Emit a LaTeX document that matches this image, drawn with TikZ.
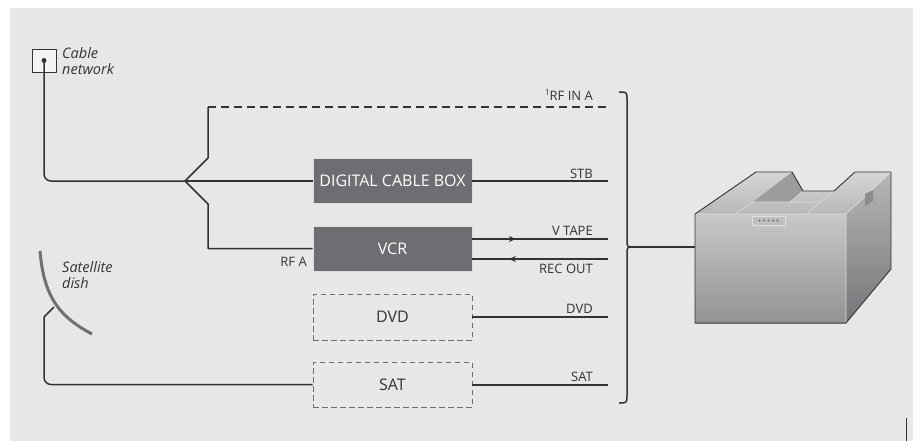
\documentclass[tikz,border=0pt]{standalone}
\usepackage{fontspec}
\setmainfont{Open Sans}
\usetikzlibrary{calc,arrows.meta,decorations.markings}

\definecolor{bggray}{HTML}{E6E7E8}
\definecolor{boxgray}{HTML}{6D6E71}
\definecolor{linegray}{HTML}{333333}
\definecolor{dishgray}{HTML}{6F7073}

\begin{document}
\begin{tikzpicture}[x=1pt,y=-1pt,line join=round,
    wire/.style={draw=linegray,line width=1.5pt},
    unit/.style={rectangle,minimum width=159pt,minimum height=45pt,inner sep=0pt,font=\fontsize{16}{18}\selectfont},
    solid unit/.style={unit,fill=boxgray,draw=white!75!gray,line width=0.8pt,text=white},
    dashed unit/.style={unit,draw=boxgray,dash pattern=on 5.5pt off 3.5pt,line width=0.9pt,text=linegray},
    tag/.style={font=\fontsize{13}{15}\selectfont,text=linegray,inner sep=0pt,anchor=base east},
    place/.style={font=\itshape\fontsize{14.5}{16}\selectfont,text=linegray,align=left,inner sep=0pt,anchor=north west},
    fwd/.style={postaction={decorate},decoration={markings,mark=at position #1 with {\arrow{Stealth[length=7pt,width=6pt]}}}}]

    \useasboundingbox (0,0) rectangle (918,441);
    \fill[bggray] (10,8) rectangle (913,441);
    \draw[linegray,line width=0.9pt] (906,418) -- (906,441);

    % sources
    \node[rectangle,draw=linegray,fill=white!55!bggray,line width=0.8pt,minimum width=24pt,minimum height=23pt] (socket) at (44,60.5) {};
    \fill[linegray] (socket.center) circle (2.5pt);
    \node[place] (cablelbl) at (62,47) {Cable\\network};

    \draw[dishgray,line width=3pt] (40,251) .. controls (44,300) and (62,318) .. (92,334);
    \node[place] (dishlbl) at (62,261) {Satellite\\dish};

    % boxes
    \node[solid unit] (dcb) at (392.5,181) {DIGITAL CABLE BOX};
    \node[solid unit] (vcr) at (392.5,248.5) {VCR};
    \node[dashed unit,minimum height=46pt] (dvd) at (392.5,317) {DVD};
    \node[dashed unit] (sat) at (392.5,384.5) {SAT};

    % cable feed and splitter
    \coordinate (split) at (185,181);
    \coordinate (rfin) at (608,107);
    \draw[wire,rounded corners=7pt] (socket.center) -- (socket.center |- split) -- (split);
    \draw[wire] (split) -- (dcb.west);
    \draw[wire] (split) -- ++(23,-23) coordinate (up) -- (up |- rfin) coordinate (corner);
    \draw[wire,dash pattern=on 8pt off 5pt] (corner) -- (rfin);
    \draw[wire] (split) -- ++(23,23) |- (vcr.west);
    \node[tag] (rfa) at (307,266) {RF A};

    % satellite feed
    \coordinate (feed) at (54,307);
    \draw[wire] (feed) -- ++(-10,10) coordinate (bend);
    \draw[wire,rounded corners=7pt] (bend) -- (bend |- sat.west) -- (sat.west);

    % outputs
    \coordinate (stb) at (608,181);
    \coordinate (vtape) at (608,239);
    \coordinate (recout) at (608,259);
    \coordinate (dvdout) at (608,317);
    \coordinate (satout) at (608,385);
    \draw[wire] (dcb.east |- stb) -- (stb);
    \draw[wire,fwd=0.32] (vcr.east |- vtape) -- (vtape);
    \draw[wire,fwd=0.73] (recout) -- (vcr.east |- recout);
    \draw[wire] (dvd.east |- dvdout) -- (dvdout);
    \draw[wire] (sat.east |- satout) -- (satout);

    \node[tag] (rfinlbl) at (593,100.5) {\raisebox{4.5pt}{\fontsize{8.5}{9}\selectfont 1}RF IN A};
    \node[tag] (stblbl) at (593,178) {STB};
    \node[tag] (vtapelbl) at (593,235) {V TAPE};
    \node[tag] (recoutlbl) at (593,273) {REC OUT};
    \node[tag] (dvdlbl) at (593,313) {DVD};
    \node[tag] (satlbl) at (593,381) {SAT};

    % brace
    \coordinate (tip) at (634,247);
    \draw[wire] (619,92) .. controls (627,92) .. (627,100) -- (627,240)
        .. controls (627,247) .. (tip) .. controls (627,247) .. (627,254)
        -- (627,395) .. controls (627,403) .. (619,403);

    % receiver
    \shade[top color=white!72!boxgray,bottom color=white!50!boxgray] (695,214) -- (756,172) -- (792,172) -- (803,191) -- (834,191) -- (855,172) -- (891,172) -- (846,214) -- cycle;
    \fill[white!32!boxgray] (753,202) -- (792,172) -- (803,191) -- (790,202) -- cycle;
    \shade[top color=white!62!boxgray,bottom color=white!25!boxgray] (695,214) rectangle (846,323);
    \shade[top color=white!50!boxgray,bottom color=boxgray!95!white] (846,214) -- (891,172) -- (891,269) -- (846,323) -- cycle;
    \draw[white!75!gray,line width=0.6pt] (735,214) -- (753,202) -- (820,202) -- (807,214)
        (790,202) -- (803,191) (834,191) -- (820,202);
    \draw[white!75!gray,line width=0.7pt] (695,214) -- (846,214) -- (891,172) (846,214) -- (846,323);
    \fill[white!20!boxgray] (865,194) -- (873,190) -- (873,201) -- (865,206) -- cycle;
    \node[rectangle,fill=white!55!boxgray,draw=white!75!gray,line width=0.5pt,minimum width=33pt,minimum height=9pt,inner sep=0pt] (panel) at (768.5,220.5) {};
    \foreach \k in {0,...,4}
        \fill[boxgray] ($(panel.center)+(-9+4.5*\k,0)$) circle (1.2pt);
    \draw[linegray,line width=0.9pt] (695,214) -- (756,172) -- (792,172) -- (803,191) -- (834,191) -- (855,172) -- (891,172) -- (891,269) -- (846,323) -- (695,323) -- cycle;
    \coordinate (tv) at (695,247);
    \draw[wire] (tip) -- (tv);

\end{tikzpicture}
\end{document}
